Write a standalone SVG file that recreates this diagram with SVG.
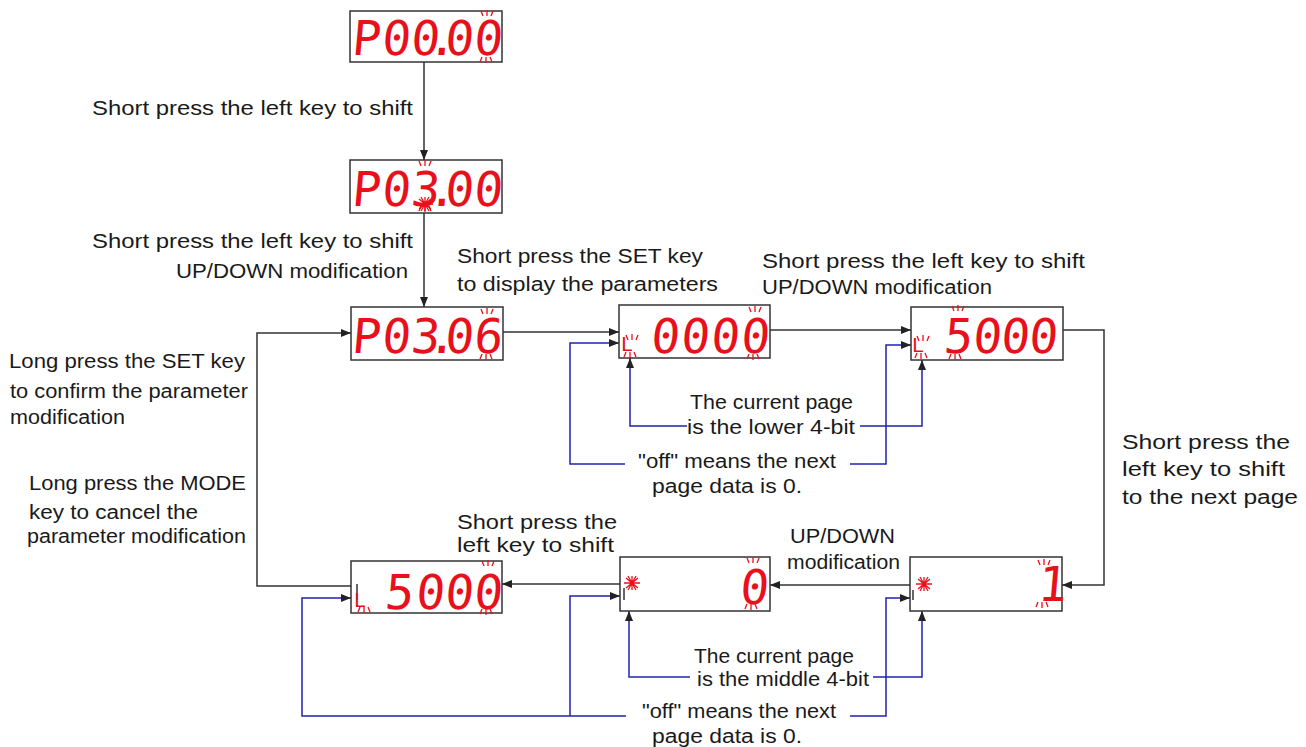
<svg xmlns="http://www.w3.org/2000/svg" width="1306" height="747" viewBox="0 0 1306 747">
<style>
.box{fill:#fff;stroke:#333;stroke-width:1.5}
.ln{fill:none;stroke:#333;stroke-width:1.5}
.bl{fill:none;stroke:#2222b0;stroke-width:1.5}
.lbl{font-family:"Liberation Sans",Arial,sans-serif;font-size:19.5px;fill:#1a1a1a}
.dig{font-family:"DejaVu Sans Mono",monospace;font-size:48px;fill:#e8101a}
.sm{font-family:"DejaVu Sans",sans-serif;font-size:20px;fill:#e8101a}
.ray{stroke:#e8101a;stroke-width:1.3;fill:none}
</style>
<defs>
<marker id="ah" viewBox="0 0 10 8" refX="10" refY="4" markerWidth="10" markerHeight="8" markerUnits="userSpaceOnUse" orient="auto">
<path d="M0,0 L10,4 L0,8 z" fill="#222"/>
</marker>
<g id="raysUp" class="ray"><path d="M-4,0 L-6,-5 M0,0 V-6 M4,0 L6,-5"/></g>
<g id="raysDn" class="ray"><path d="M-4,0 L-6,5 M0,0 V6 M4,0 L6,5"/></g>
<g id="star" class="ray"><path d="M-8,0 H8 M0,-7 V7 M-6,-5 L6,5 M-6,5 L6,-5 M-4,-7 L4,7 M4,-7 L-4,7"/></g>
</defs>

<g id="connectors">
<path class="ln" d="M424,62 V160" marker-end="url(#ah)"/>
<path class="ln" d="M424,213 V307" marker-end="url(#ah)"/>
<path class="ln" d="M503,332 H619" marker-end="url(#ah)"/>
<path class="ln" d="M770,330 H911" marker-end="url(#ah)"/>
<path class="ln" d="M1063,330 H1104 V585 H1062" marker-end="url(#ah)"/>
<path class="ln" d="M910,585 H770" marker-end="url(#ah)"/>
<path class="ln" d="M620,584 H502" marker-end="url(#ah)"/>
<path class="ln" d="M351,586 H257 V333 H351" marker-end="url(#ah)"/>
<path class="bl" d="M687,426 H630 V358" marker-end="url(#ah)"/>
<path class="bl" d="M860,426 H922 V360" marker-end="url(#ah)"/>
<path class="bl" d="M625,464 H570 V343 H619" marker-end="url(#ah)"/>
<path class="bl" d="M850,464 H886 V345 H911" marker-end="url(#ah)"/>
<path class="bl" d="M690,677 H629 V611" marker-end="url(#ah)"/>
<path class="bl" d="M873,677 H922 V611" marker-end="url(#ah)"/>
<path class="bl" d="M626,716 H302 V598 H351" marker-end="url(#ah)"/>
<path class="bl" d="M570,716 V596 H620" marker-end="url(#ah)"/>
<path class="bl" d="M850,716 H886 V598 H910" marker-end="url(#ah)"/>
</g>

<g id="n1">
<rect class="box" x="350" y="11" width="152" height="51"/>
<text class="dig" transform="translate(0,55) skewX(-5) translate(0,-55)" x="351 381 410 427 444 473" y="55">P00.00</text>
<use href="#raysUp" x="487" y="16"/><use href="#raysDn" x="486" y="57"/>
</g>
<g id="n2">
<rect class="box" x="350" y="160" width="152" height="53"/>
<text class="dig" transform="translate(0,206) skewX(-5) translate(0,-206)" x="351 381 410 427 444 473" y="206">P03.00</text>
<use href="#raysUp" x="425" y="166"/><use href="#raysDn" x="425" y="206"/>
<use href="#star" x="425" y="204"/>
</g>
<g id="n3">
<rect class="box" x="351" y="307" width="152" height="53"/>
<text class="dig" transform="translate(0,353) skewX(-5) translate(0,-353)" x="351 381 410 427 444 473" y="353">P03.06</text>
<use href="#raysUp" x="487" y="314"/><use href="#raysDn" x="486" y="354"/>
</g>
<g id="n4">
<rect class="box" x="619" y="305" width="151" height="53"/>
<text class="sm" x="621" y="351">L</text>
<use href="#raysUp" x="632" y="340"/><use href="#raysDn" x="630" y="352"/>
<text class="dig" transform="translate(0,353) skewX(-5) translate(0,-353)" x="650 680 710 740" y="353">0000</text>
<use href="#raysUp" x="755" y="312"/><use href="#raysDn" x="753" y="354"/>
</g>
<g id="n5">
<rect class="box" x="911" y="307" width="152" height="53"/>
<text class="sm" x="912" y="352">L</text>
<use href="#raysUp" x="923" y="341"/><use href="#raysDn" x="921" y="353"/>
<text class="dig" transform="translate(0,353) skewX(-5) translate(0,-353)" x="943 972 1000 1028" y="353">5000</text>
<use href="#raysUp" x="958" y="311"/><use href="#raysDn" x="955" y="354"/>
</g>
<g id="n6">
<rect class="box" x="351" y="561" width="151" height="52"/>
<path class="ln" d="M357,584 V600" stroke-width="1.2"/>
<text class="sm" x="354" y="607">L</text>
<use href="#raysDn" x="364" y="607"/>
<text class="dig" transform="translate(0,609) skewX(-5) translate(0,-609)" x="384 415 444 473" y="609">5000</text>
<use href="#raysUp" x="488" y="566"/><use href="#raysDn" x="486" y="609"/>
</g>
<g id="n7">
<rect class="box" x="620" y="557" width="150" height="54"/>
<use href="#star" x="632" y="583"/>
<path class="ln" d="M624,588 V600" stroke-width="1.2"/>
<text class="dig" transform="translate(0,604) skewX(-5) translate(0,-604)" x="739" y="604">0</text>
<use href="#raysUp" x="753" y="563"/><use href="#raysDn" x="751" y="604"/>
</g>
<g id="n8">
<rect class="box" x="910" y="557" width="152" height="54"/>
<use href="#star" x="924" y="584"/>
<path class="ln" d="M913,590 V600" stroke-width="1.2"/>
<text class="dig" transform="translate(0,601) skewX(-5) translate(0,-601)" x="1037" y="601">1</text>
<use href="#raysUp" x="1044" y="565"/><use href="#raysDn" x="1042" y="602"/>
</g>

<g id="labels">
<text class="lbl" x="92" y="115" textLength="321" lengthAdjust="spacingAndGlyphs">Short press the left key to shift</text>
<text class="lbl" x="92" y="248" textLength="321" lengthAdjust="spacingAndGlyphs">Short press the left key to shift</text>
<text class="lbl" x="176" y="278" textLength="232" lengthAdjust="spacingAndGlyphs">UP/DOWN modification</text>
<text class="lbl" x="457" y="263" textLength="246" lengthAdjust="spacingAndGlyphs">Short press the SET key</text>
<text class="lbl" x="457" y="291" textLength="261" lengthAdjust="spacingAndGlyphs">to display the parameters</text>
<text class="lbl" x="762" y="268" textLength="323" lengthAdjust="spacingAndGlyphs">Short press the left key to shift</text>
<text class="lbl" x="762" y="294" textLength="230" lengthAdjust="spacingAndGlyphs">UP/DOWN modification</text>
<text class="lbl" x="9" y="368" textLength="236" lengthAdjust="spacingAndGlyphs">Long press the SET key</text>
<text class="lbl" x="10" y="398" textLength="238" lengthAdjust="spacingAndGlyphs">to confirm the parameter</text>
<text class="lbl" x="10" y="424" textLength="115" lengthAdjust="spacingAndGlyphs">modification</text>
<text class="lbl" x="29" y="490" textLength="217" lengthAdjust="spacingAndGlyphs">Long press the MODE</text>
<text class="lbl" x="29" y="519" textLength="169" lengthAdjust="spacingAndGlyphs">key to cancel the</text>
<text class="lbl" x="27" y="543" textLength="219" lengthAdjust="spacingAndGlyphs">parameter modification</text>
<text class="lbl" x="457" y="529" textLength="160" lengthAdjust="spacingAndGlyphs">Short press the</text>
<text class="lbl" x="457" y="552" textLength="157" lengthAdjust="spacingAndGlyphs">left key to shift</text>
<text class="lbl" x="790" y="543" textLength="105" lengthAdjust="spacingAndGlyphs">UP/DOWN</text>
<text class="lbl" x="787" y="569" textLength="113" lengthAdjust="spacingAndGlyphs">modification</text>
<text class="lbl" x="1122" y="449" textLength="168" lengthAdjust="spacingAndGlyphs">Short press the</text>
<text class="lbl" x="1122" y="476" textLength="163" lengthAdjust="spacingAndGlyphs">left key  to shift</text>
<text class="lbl" x="1122" y="504" textLength="176" lengthAdjust="spacingAndGlyphs">to the next page</text>
<text class="lbl" x="690" y="409" textLength="163" lengthAdjust="spacingAndGlyphs">The current page</text>
<text class="lbl" x="687" y="434" textLength="168" lengthAdjust="spacingAndGlyphs">is the lower 4-bit</text>
<text class="lbl" x="638" y="468" textLength="198" lengthAdjust="spacingAndGlyphs">"off" means the next</text>
<text class="lbl" x="652" y="493" textLength="150" lengthAdjust="spacingAndGlyphs">page data is 0.</text>
<text class="lbl" x="694" y="663" textLength="160" lengthAdjust="spacingAndGlyphs">The current page</text>
<text class="lbl" x="697" y="686" textLength="172" lengthAdjust="spacingAndGlyphs">is the middle 4-bit</text>
<text class="lbl" x="642" y="718" textLength="194" lengthAdjust="spacingAndGlyphs">"off" means the next</text>
<text class="lbl" x="652" y="743" textLength="150" lengthAdjust="spacingAndGlyphs">page data is 0.</text>
</g>
</svg>
